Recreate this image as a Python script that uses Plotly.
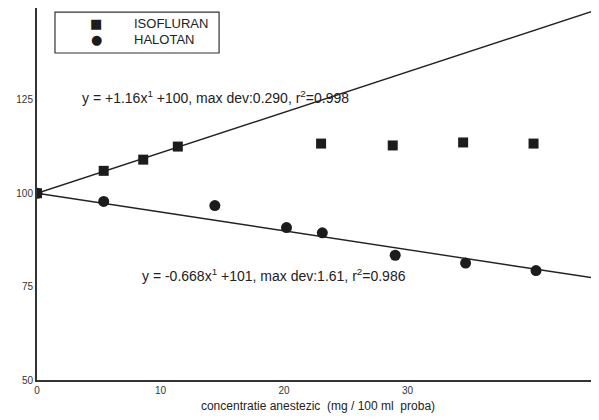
import plotly.graph_objects as go

# Data
iso_x = [0, 5.4, 8.6, 11.4, 23.0, 28.8, 34.5, 40.2]
iso_y = [100, 106.0, 109.0, 112.5, 113.3, 112.8, 113.6, 113.3]
hal_x = [0, 5.4, 14.4, 20.2, 23.1, 29.0, 34.7, 40.4]
hal_y = [100, 97.8, 96.7, 90.8, 89.4, 83.4, 81.3, 79.3]

fit_x = [0, 45.5]
iso_fit_y = [100, 149.3]
hal_fit_y = [100, 77.1]

x_ticks = [0, 10, 20, 30]
y_ticks = [50, 75, 100, 125]

legend_names = ["ISOFLURAN", "HALOTAN"]
legend_glyphs = ["■", "●"]

eq_iso = "y = +1.16x<sup>1</sup> +100, max dev:0.290, r<sup>2</sup>=0.998"
eq_hal = "y = -0.668x<sup>1</sup> +101, max dev:1.61, r<sup>2</sup>=0.986"
x_title = "concentratie anestezic  (mg / 100 ml  proba)"

ink = "#1c1c1c"
font = "Liberation Sans, Arial, sans-serif"

fig = go.Figure()
fig.add_trace(go.Scatter(x=fit_x, y=iso_fit_y, mode="lines",
                         line=dict(color="#222", width=1.4), showlegend=False, hoverinfo="skip"))
fig.add_trace(go.Scatter(x=fit_x, y=hal_fit_y, mode="lines",
                         line=dict(color="#222", width=1.4), showlegend=False, hoverinfo="skip"))
fig.add_trace(go.Scatter(x=iso_x, y=iso_y, mode="markers", name=legend_names[0],
                         marker=dict(symbol="square", size=10, color=ink), showlegend=False))
fig.add_trace(go.Scatter(x=hal_x, y=hal_y, mode="markers", name=legend_names[1],
                         marker=dict(symbol="circle", size=11, color=ink), showlegend=False))

# legend box (drawn manually)
fig.add_shape(type="rect", xref="paper", yref="paper", x0=0.032, x1=0.324, y0=0.879, y1=0.989,
              line=dict(color="#333", width=1.2), fillcolor="white", layer="above")
leg_y = [0.958, 0.915]
for name, glyph, yy in zip(legend_names, legend_glyphs, leg_y):
    fig.add_annotation(xref="paper", yref="paper", x=0.105, y=yy, text=glyph, showarrow=False,
                       xanchor="center", yanchor="middle", borderpad=0,
                       font=dict(family="DejaVu Sans", size=13, color=ink))
    fig.add_annotation(xref="paper", yref="paper", x=0.171, y=yy, text=name, showarrow=False,
                       xanchor="left", yanchor="middle", borderpad=0,
                       font=dict(family=font, size=13, color="#222"))

fig.add_annotation(xref="paper", yref="paper", x=0.0765, y=0.761, text=eq_iso,
                   showarrow=False, xanchor="left", yanchor="middle",
                   font=dict(family=font, size=14, color="#222"))
fig.add_annotation(xref="paper", yref="paper", x=0.183, y=0.282, text=eq_hal,
                   showarrow=False, xanchor="left", yanchor="middle",
                   font=dict(family=font, size=14, color="#222"))

fig.update_layout(
    width=591, height=412,
    margin=dict(l=29, r=0, t=0, b=40),
    paper_bgcolor="white", plot_bgcolor="white",
    font=dict(family=font, color="#222"),
    showlegend=False,
    xaxis=dict(range=[0, 45.5], tickvals=x_ticks, showgrid=False, zeroline=False,
               showline=True, linecolor="#333", linewidth=2, ticks="",
               tickfont=dict(family=font, size=10, color="#333"),
               title=dict(text=x_title, font=dict(family=font, size=12, color="#222"), standoff=7)),
    yaxis=dict(range=[50, 149.6], tickvals=y_ticks, showgrid=False, zeroline=False,
               showline=True, linecolor="#333", linewidth=2, ticks="",
               tickfont=dict(family=font, size=10, color="#333")),
)

fig.write_html("out.html")
